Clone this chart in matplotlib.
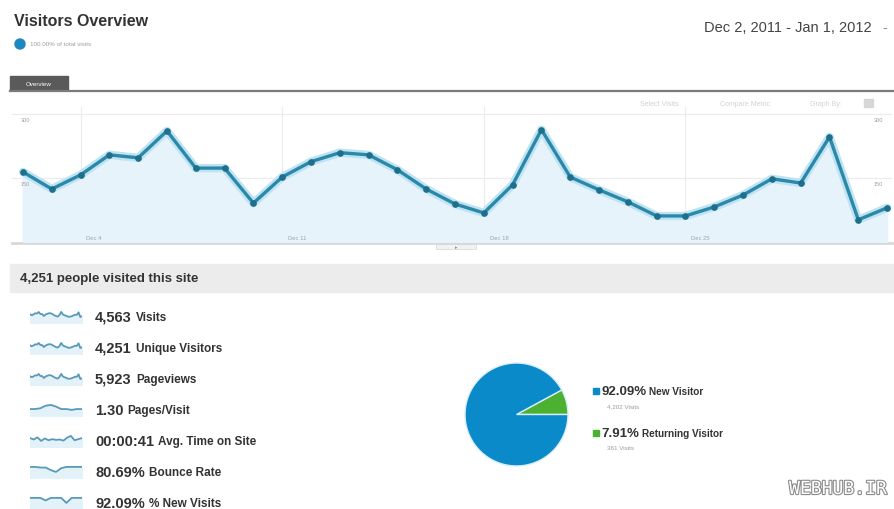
import matplotlib
matplotlib.use("Agg")
import matplotlib.pyplot as plt
import matplotlib.patheffects as pe
from matplotlib.patches import Rectangle, Circle

plt.rcParams['font.family'] = ['Liberation Sans', 'DejaVu Sans']

# daily visits, Dec 2 2011 - Jan 1 2012
visits = [164, 124, 157, 204, 197, 260, 173, 173, 91, 152, 188, 209, 204, 169, 124,
          89, 68, 134, 263, 152, 122, 94, 61, 61, 82, 110, 148, 138, 246, 52, 80]
tick_pos = [2, 9, 16, 23]
tick_labels = ["Dec 4", "Dec 11", "Dec 18", "Dec 25"]
y_ticks = [150, 300]

# summary metrics
metric_values = ["4,563", "4,251", "5,923", "1.30", "00:00:41", "80.69%", "92.09%"]
metric_names = ["Visits", "Unique Visitors", "Pageviews", "Pages/Visit",
                "Avg. Time on Site", "Bounce Rate", "% New Visits"]
spark_pages = [1.30, 1.30, 1.31, 1.34, 1.35, 1.33, 1.30, 1.30, 1.29, 1.30, 1.30]
spark_time = [44, 40, 46, 36, 43, 38, 41, 39, 40, 37, 45, 50, 38, 41, 44]
spark_bounce = [80.7, 80.7, 80.6, 80.6, 80.2, 79.9, 80.5, 80.7, 80.7, 80.7, 80.7]
spark_new = [92.1, 92.1, 92.1, 92.0, 92.1, 92.1, 92.1, 91.9, 92.1, 92.1, 92.1]
sparks = [visits, visits, visits, spark_pages, spark_time, spark_bounce, spark_new]

# visitor types
pie_labels = ["New Visitor", "Returning Visitor"]
pie_pct = [92.09, 7.91]
pie_visits = ["4,202 Visits", "361 Visits"]
pie_colors = ["#0a8ac9", "#4cb030"]

W, H = 894, 510
fig = plt.figure(figsize=(W / 100, H / 100), dpi=100)
bg = fig.add_axes([0, 0, 1, 1])
bg.set_xlim(0, W)
bg.set_ylim(H, 0)
bg.axis('off')

def fx(px):
    return px / W

def fy(py):
    return 1 - py / H

# header
bg.text(14, 22, "Visitors Overview", fontsize=11.5, fontweight='bold', color='#333333', va='center')
bg.add_patch(Circle((20, 45), 5, color='#1d87c0'))
bg.text(30, 45, "100.00% of total visits", fontsize=4.5, color='#a0a0a0', va='center')
bg.text(704, 28, "Dec 2, 2011 - Jan 1, 2012", fontsize=10.5, color='#444444', va='center')
bg.text(882, 28, "-", fontsize=10, color='#888888', va='center')

# tab and rule
bg.add_patch(Rectangle((10, 77), 58, 14, color='#5a5a5a'))
bg.text(39, 84, "Overview", fontsize=4.5, color='white', ha='center', va='center')
bg.plot([10, 894], [91.5, 91.5], color='#7a7a7a', lw=1.6)
for x, s in [(640, "Select Visits"), (720, "Compare Metric"), (810, "Graph By:")]:
    bg.text(x, 104, s, fontsize=5, color='#d2d2d2', va='center')
bg.add_patch(Rectangle((864, 100), 9, 8, color='#d6d6d6'))

# line chart
ax = fig.add_axes([fx(12), fy(243), fx(880), fy(108) - fy(243)])
days = list(range(len(visits)))
ax.fill_between(days, visits, color='#e6f3fa', zorder=1)
ax.plot(days, visits, color='#bfe3f2', lw=6, zorder=2, solid_capstyle='round')
ax.plot(days, visits, color='#2a88a8', lw=2.4, marker='o', markersize=3.8,
        markerfacecolor='#1e6f8c', markeredgecolor='#1e6f8c', zorder=3)
ax.set_xlim(-0.38, 30.17)
ax.set_ylim(0, 316)
for p in tick_pos:
    ax.axvline(p, color='#ececec', lw=0.8, zorder=0.5)
for y in y_ticks:
    ax.axhline(y, color='#ececec', lw=0.8, zorder=0.5)
for p, lab in zip(tick_pos, tick_labels):
    ax.text(p + 0.2, 10, lab, fontsize=4.2, color='#9aa6ad', va='center', zorder=4)
for y in y_ticks:
    ax.text(0.01, y - 8, str(y), transform=ax.get_yaxis_transform(), fontsize=4,
            color='#a0a0a0', va='top', zorder=4)
    ax.text(0.99, y - 8, str(y), transform=ax.get_yaxis_transform(), fontsize=4,
            color='#a0a0a0', va='top', ha='right', zorder=4)
ax.axis('off')
bg.plot([12, 892], [243.5, 243.5], color='#d8d8d8', lw=2)
bg.add_patch(Rectangle((436, 245), 40, 5, facecolor='#f2f2f2', edgecolor='#dcdcdc', lw=0.6))
bg.text(456, 247.5, "\u25b8", fontsize=3.5, color='#888888', ha='center', va='center')

# summary bar
bg.add_patch(Rectangle((10, 265), 884, 28, color='#ececec'))
bg.text(20, 279, "4,251 people visited this site", fontsize=9.5, fontweight='bold',
        color='#333333', va='center')

# metric rows with sparklines
for i, (val, name, sp) in enumerate(zip(metric_values, metric_names, sparks)):
    yc = 318 + i * 31
    sax = fig.add_axes([fx(30), fy(yc + 6), fx(52), fy(yc - 6) - fy(yc + 6)])
    xs = list(range(len(sp)))
    lo, hi = min(sp), max(sp)
    pad = (hi - lo) * 0.6 + 1e-3
    sax.fill_between(xs, sp, lo - pad * 2, color='#e3f1f9')
    sax.plot(xs, sp, color='#5a9ab8', lw=1.3)
    sax.set_ylim(lo - pad * 2, hi + pad * 0.3)
    sax.set_xlim(0, len(sp) - 1)
    sax.axis('off')
    t = bg.text(95, yc, val, fontsize=10.5, fontweight='bold', color='#333333', va='center')
    bg.annotate(name, xy=(1, 0.5), xycoords=t, xytext=(3, 0), textcoords='offset points',
                fontsize=8.5, fontweight='bold', color='#333333', va='center')

# pie
pax = fig.add_axes([fx(464), fy(469), fx(105), fy(362) - fy(469)])
pax.pie(pie_pct[::-1], colors=pie_colors[::-1], startangle=0, counterclock=True,
        wedgeprops={'linewidth': 1, 'edgecolor': '#d8eef8'})
pax.set_xlim(-1.02, 1.02)
pax.set_ylim(-1.02, 1.02)
pax.set_aspect('equal')

for i, (lab, pct, vis, col) in enumerate(zip(pie_labels, pie_pct, pie_visits, pie_colors)):
    yc = 392 + i * 42
    bg.add_patch(Rectangle((593, yc - 3), 6, 6, color=col))
    t = bg.text(601, yc, f"{pct:.2f}%", fontsize=9.5, fontweight='bold', color='#333333', va='center')
    bg.annotate(lab, xy=(1, 0.5), xycoords=t, xytext=(2, 0), textcoords='offset points',
                fontsize=7.2, fontweight='bold', color='#333333', va='center')
    bg.text(607, yc + 15, vis, fontsize=4.5, color='#9a9a9a', va='center')

# watermark
bg.text(838, 490, "WEBHUB.IR", fontsize=13, color='white', ha='center', va='center',
        family='DejaVu Sans Mono',
        path_effects=[pe.withStroke(linewidth=1.6, foreground='#8a8a8a')])

fig.savefig("out.png", dpi=100)
